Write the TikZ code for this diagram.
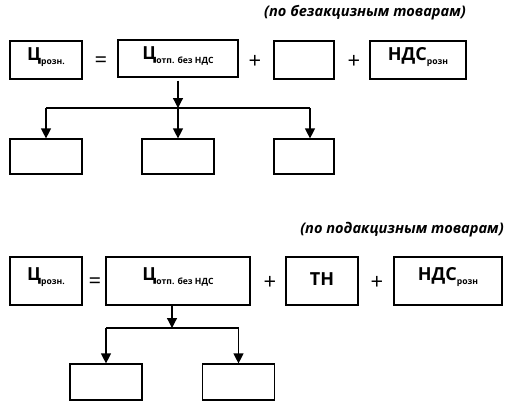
\documentclass[tikz,border=0pt]{standalone}
\usepackage{fontspec}
\setmainfont{Open Sans}
\usetikzlibrary{arrows.meta}
\newcommand{\bigtxt}{\fontsize{18}{20}\selectfont\bfseries}
\newcommand{\subtxt}[1]{\raisebox{-0.4ex}{\fontsize{8.6}{9}\selectfont\bfseries #1}}
\newcommand{\up}[2]{\raisebox{#1}[\height][\depth]{#2}}
\tikzset{
  box/.style={draw, line width=1.2pt, rectangle, inner sep=0pt, font=\bigtxt},
  op/.style={inner sep=0pt, font=\fontsize{22}{24}\selectfont},
  ttl/.style={inner sep=0pt, font=\fontsize{14.6}{16}\selectfont\bfseries\itshape},
  arr/.style={line width=1.2pt, -{Triangle[length=10pt,width=10pt]}},
  ln/.style={line width=1.2pt}
}
\begin{document}
\begin{tikzpicture}[x=1pt,y=-1pt]
\useasboundingbox[fill=white] (0,0) rectangle (508,408);
% top section
\node[ttl] (t1) at (365,13) {(по безакцизным товарам)};
\node[box, minimum width=72pt, minimum height=38pt] (A1) at (46,60) {\up{3pt}{Ц\subtxt{розн.}}};
\node[op] (eq1) at (101,62) {=};
\node[box, minimum width=120pt, minimum height=37pt] (A2) at (178,58.5) {\up{3pt}{Ц\subtxt{отп. без НДС}}};
\node[op] (p1) at (255,62) {+};
\node[box, minimum width=60pt, minimum height=38pt] (A3) at (304,60) {};
\node[op] (p2) at (354,62) {+};
\node[box, minimum width=96pt, minimum height=38pt] (A4) at (418,60) {\up{3pt}{НДС\subtxt{розн}}};
\node[box, minimum width=72pt, minimum height=35pt] (B1) at (46,156.5) {};
\node[box, minimum width=72pt, minimum height=35pt] (B2) at (178,156.5) {};
\node[box, minimum width=60pt, minimum height=35pt] (B3) at (304,156.5) {};
\coordinate (j1) at (178,108);
\coordinate (hl1) at (46,108);
\coordinate (hr1) at (310,108);
\draw[arr, shorten <=3pt] (A2.south) -- (j1);
\draw[ln] (hl1) -- (hr1);
\draw[arr] (hl1) -- (B1.north);
\draw[arr] (j1) -- (B2.north);
\draw[arr] (hr1) -- (B3.north -| hr1);
% bottom section
\node[ttl] (t2) at (402,230) {(по подакцизным товарам)};
\node[box, minimum width=72pt, minimum height=48pt] (C1) at (46,281) {\up{4pt}{Ц\subtxt{розн.}}};
\node[op] (eq2) at (95,283) {=};
\node[box, minimum width=144pt, minimum height=48pt] (C2) at (178,281) {\up{4pt}{Ц\subtxt{отп. без НДС}}};
\node[op] (p3) at (270,283) {+};
\node[box, minimum width=72pt, minimum height=48pt] (C3) at (322,281) {\up{2pt}{ТН}};
\node[op] (p4) at (377,283) {+};
\node[box, minimum width=108pt, minimum height=48pt] (C4) at (448,281) {\up{4pt}{НДС\subtxt{розн}}};
\node[box, minimum width=72pt, minimum height=36pt] (D1) at (106,382) {};
\node[box, minimum width=72pt, minimum height=36pt] (D2) at (238.5,382) {};
\coordinate (s2) at (172,305);
\coordinate (j2) at (172,328);
\coordinate (hl2) at (106,328);
\coordinate (hr2) at (238.5,328);
\draw[arr] (C2.south -| s2) -- (j2);
\draw[ln] (hl2) -- (hr2);
\draw[arr] (hl2) -- (D1.north);
\draw[arr] (hr2) -- (D2.north);
\end{tikzpicture}
\end{document}
